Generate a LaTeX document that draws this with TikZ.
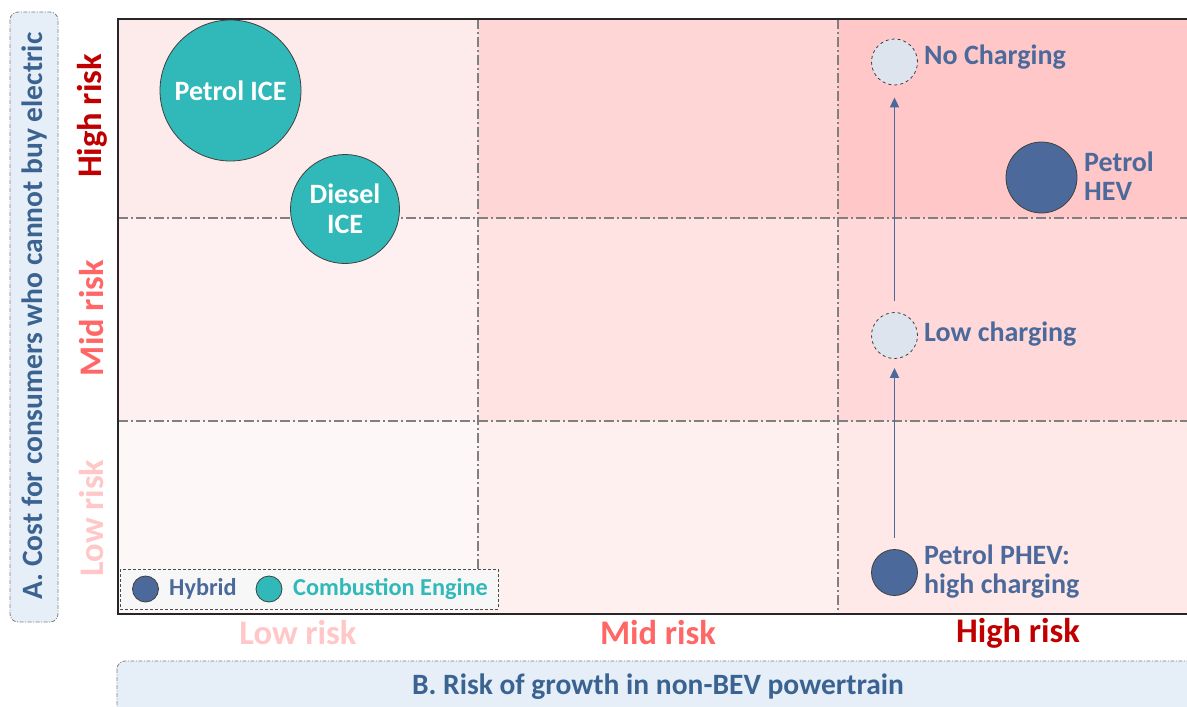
\documentclass[tikz,border=0pt]{standalone}
\usepackage{fontspec}
\setmainfont{Carlito}
\usetikzlibrary{arrows.meta}
\definecolor{cellA}{HTML}{FDEBEB}
\definecolor{cellB}{HTML}{FFD6D6}
\definecolor{cellC}{HTML}{FFC7C7}
\definecolor{cellD}{HTML}{FEF0F0}
\definecolor{cellE}{HTML}{FFE2E2}
\definecolor{cellF}{HTML}{FFD9D9}
\definecolor{cellG}{HTML}{FEF7F7}
\definecolor{cellH}{HTML}{FFF0F0}
\definecolor{cellI}{HTML}{FFE8E8}
\definecolor{hybrid}{HTML}{4B6A9B}
\definecolor{combust}{HTML}{31B9B9}
\definecolor{scen}{HTML}{DDE4EE}
\definecolor{axisblue}{HTML}{3B6391}
\definecolor{axisfill}{HTML}{E6EEF8}
\definecolor{riskhigh}{HTML}{C00000}
\definecolor{riskmid}{HTML}{FF6666}
\definecolor{risklow}{HTML}{FFC7C7}
\definecolor{gridgray}{HTML}{808080}
\begin{document}
\begin{tikzpicture}[x=1pt,y=-1pt,
  grid/.style={draw=gridgray, line width=1.1pt, dash pattern=on 10pt off 3pt on 2pt off 3pt},
  axisbox/.style={draw=gridgray, line width=0.8pt, dash pattern=on 4pt off 1.5pt on 1pt off 1.5pt, fill=axisfill, rounded corners=8pt},
  bubble/.style={circle, draw=black!75, line width=0.8pt, inner sep=0pt, text=white, font=\bfseries\fontsize{28}{30}\selectfont, align=center},
  hyb/.style={bubble, fill=hybrid, minimum size=#1},
  comb/.style={bubble, fill=combust, minimum size=#1},
  scenario/.style={circle, draw=black!75, line width=0.8pt, dashed, fill=scen, inner sep=0pt, minimum size=#1},
  plabel/.style={anchor=west, text=hybrid, font=\bfseries\fontsize{28}{29}\selectfont, align=left, inner sep=0pt},
  risk/.style={font=\bfseries\fontsize{34.5}{38}\selectfont, inner sep=0pt},
  flow/.style={draw=hybrid, line width=1.8pt, -{Triangle[length=10pt,width=9pt]}},
  legtext/.style={anchor=west, font=\bfseries\fontsize{24.3}{26}\selectfont, inner sep=0pt}
]
\useasboundingbox (0,0) rectangle (1187,707);
\clip (0,0) rectangle (1187,707);

% risk matrix cells
\fill[cellA] (118,19) rectangle (478,218);
\fill[cellB] (478,19) rectangle (838,218);
\fill[cellC] (838,19) rectangle (1190,218);
\fill[cellD] (118,218) rectangle (478,421);
\fill[cellE] (478,218) rectangle (838,421);
\fill[cellF] (838,218) rectangle (1190,421);
\fill[cellG] (118,421) rectangle (478,614);
\fill[cellH] (478,421) rectangle (838,614);
\fill[cellI] (838,421) rectangle (1190,614);

% dash-dot grid
\draw[grid] (478,19) -- (478,614);
\draw[grid] (838,19) -- (838,614);
\draw[grid] (118,218) -- (1190,218);
\draw[grid] (118,421) -- (1190,421);

% frame
\draw[line width=2pt, black!85] (1190,19) -- (118,19) -- (118,614) -- (1190,614);

% axis titles
\draw[axisbox] (10,12) rectangle (58,622);
\node[rotate=90, text=axisblue, font=\bfseries\fontsize{29.5}{32}\selectfont] (ytitle) at (34,316) {A. Cost for consumers who cannot buy electric};
\draw[axisbox] (117,661) rectangle (1200,740);
\node[text=axisblue, font=\bfseries\fontsize{29.5}{32}\selectfont] (xtitle) at (658,687) {B. Risk of growth in non-BEV powertrain};

% risk levels
\node[risk, rotate=90, text=riskhigh] (yhigh) at (92,116) {High risk};
\node[risk, rotate=90, text=riskmid] (ymid) at (92,318) {Mid risk};
\node[risk, rotate=90, text=risklow] (ylow) at (92,518) {Low risk};
\node[risk, text=risklow] (xlow) at (298,633) {Low risk};
\node[risk, text=riskmid] (xmid) at (658,633) {Mid risk};
\node[risk, text=riskhigh] (xhigh) at (1018,633) {High risk};

% powertrains
\node[comb=141pt] (pice) at (230.5,90.5) {Petrol ICE};
\node[comb=109pt] (dice) at (345,209) {Diesel\\ICE};
\node[hyb=71pt] (phev) at (1041.5,177.5) {};
\node[plabel] (phevl) at (1084,176) {Petrol\\HEV};
\node[scenario=46pt] (noch) at (894.5,62) {};
\node[plabel] (nochl) at (924,57) {No Charging};
\node[scenario=46pt] (lowch) at (894.5,335.5) {};
\node[plabel] (lowchl) at (924,334) {Low charging};
\node[hyb=46pt] (phv) at (894.5,572.5) {};
\node[plabel] (phvl) at (924,572) {Petrol PHEV:\\high charging};

% charging scenarios
\draw[flow, shorten <=11pt, shorten >=9pt] (phv) -- (lowch);
\draw[flow, shorten <=11pt, shorten >=12pt] (lowch) -- (noch);

% legend
\draw[draw=black!70, line width=0.7pt, dash pattern=on 3pt off 2pt, fill=white!94!gray] (120,569) rectangle (498,609);
\node[circle, draw=black!75, line width=0.8pt, fill=hybrid, minimum size=26pt, inner sep=0pt] (lhyb) at (145.5,589) {};
\node[legtext, text=hybrid] (lhybt) at (169,589) {Hybrid};
\node[circle, draw=black!75, line width=0.8pt, fill=combust, minimum size=26pt, inner sep=0pt] (lcomb) at (269,589) {};
\node[legtext, text=combust] (lcombt) at (293,589) {Combustion Engine};
\end{tikzpicture}
\end{document}
